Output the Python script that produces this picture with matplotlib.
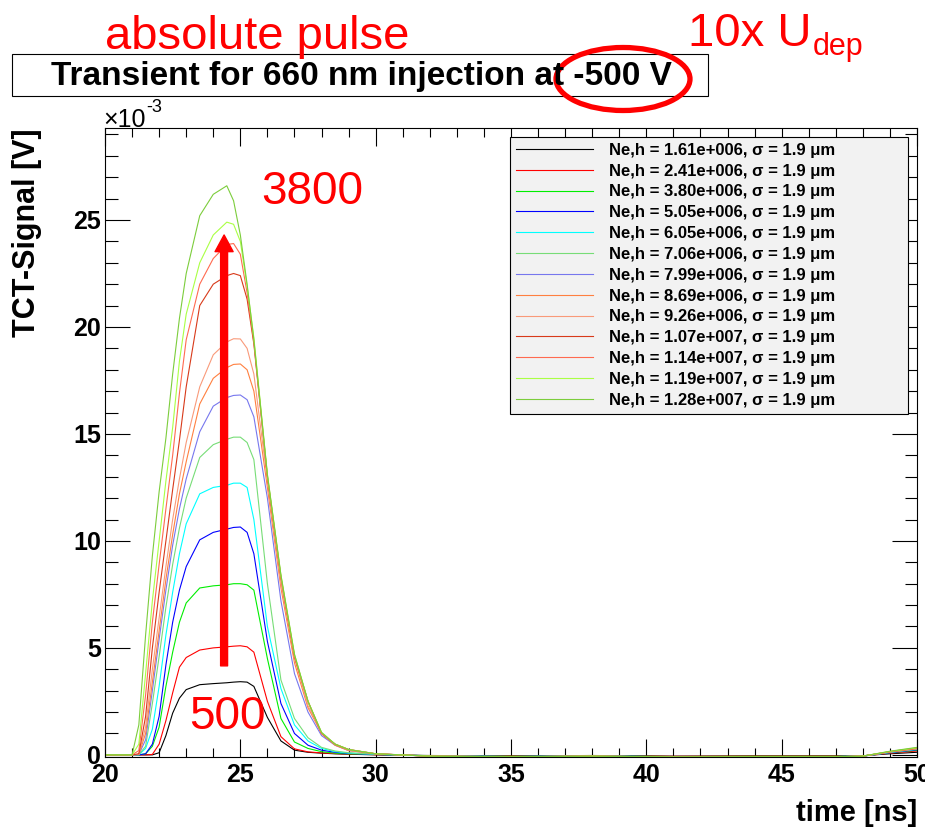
import matplotlib
matplotlib.use('Agg')
import matplotlib.pyplot as plt
from matplotlib.patches import Rectangle, Ellipse
from matplotlib.ticker import MultipleLocator

plt.rcParams['font.family'] = ['Liberation Sans', 'DejaVu Sans']
plt.rcParams['font.weight'] = 'bold'
plt.rcParams['axes.labelweight'] = 'bold'

# time axis [ns] and signals [1e-3 V]
t_ns = [20, 21, 21.25, 21.5, 21.75, 22, 22.25, 22.5, 22.75, 23, 23.5, 24, 24.5, 24.75,
        25, 25.25, 25.5, 26, 26.5, 27, 27.5, 28, 28.5, 29, 30, 32, 35, 38, 41, 44,
        47, 48, 49, 50]

sig_161 = [0, 0, 0, 0, 0, 0.1, 0.9, 1.95, 2.65, 3.05, 3.28, 3.33, 3.37, 3.4, 3.42, 3.4, 3.2,
           1.75, 0.65, 0.22, 0.12, 0.08, 0.05, 0.03, 0.0, -0.03, -0.05, -0.03, -0.06, -0.05,
           -0.05, -0.04, 0.05, 0.12]
sig_241 = [0, 0, 0, 0, 0.02, 0.5, 1.6, 2.9, 4.1, 4.55, 4.9, 5.0, 5.05, 5.08, 5.1, 5.05, 4.8,
           2.5, 0.85, 0.28, 0.14, 0.09, 0.06, 0.04, 0.01, -0.04, -0.06, -0.04, -0.07, -0.06,
           -0.06, -0.05, 0.08, 0.18]
sig_380 = [0, 0, 0, 0.05, 0.4, 1.3, 3.2, 4.8, 6.2, 7.1, 7.8, 7.9, 7.95, 8.0, 8.0, 7.95, 7.7,
           4.5, 1.7, 0.6, 0.3, 0.15, 0.08, 0.05, 0.02, -0.04, -0.07, -0.05, -0.08, -0.07,
           -0.07, -0.05, 0.1, 0.22]
sig_505 = [0, 0, 0, 0.05, 0.5, 1.8, 4.2, 6.2, 7.7, 8.8, 10.05, 10.4, 10.55, 10.63, 10.65, 10.4,
           9.4, 5.3, 2.4, 1.0, 0.45, 0.22, 0.12, 0.07, 0.02, -0.05, -0.08, -0.05, -0.09, -0.08,
           -0.08, -0.06, 0.1, 0.24]
sig_605 = [0, 0, 0, 0.3, 1.2, 3.2, 5.6, 7.6, 9.4, 10.8, 12.2, 12.5, 12.6, 12.7, 12.7, 12.5,
           11.0, 6.0, 3.1, 1.4, 0.65, 0.3, 0.15, 0.08, 0.03, -0.05, -0.08, -0.05, -0.09, -0.08,
           -0.08, -0.06, 0.12, 0.26]
sig_706 = [0, 0, 0.01, 0.4, 2.4, 4.6, 6.9, 8.9, 10.6, 12.0, 13.9, 14.5, 14.75, 14.85, 14.85,
           14.6, 13.8, 8.0, 3.5, 1.7, 0.8, 0.35, 0.18, 0.1, 0.03, -0.05, -0.08, -0.06, -0.09,
           -0.08, -0.08, -0.06, 0.12, 0.27]
sig_799 = [0, 0, 0.02, 0.7, 3.0, 5.4, 7.7, 9.8, 11.5, 12.9, 15.1, 16.3, 16.7, 16.8, 16.82,
           16.6, 15.8, 12.0, 7.2, 3.8, 2.0, 0.9, 0.45, 0.2, 0.05, -0.05, -0.08, -0.06, -0.1,
           -0.08, -0.08, -0.06, 0.13, 0.28]
sig_869 = [0, 0, 0.02, 1.0, 3.4, 5.8, 8.2, 10.3, 12.2, 13.7, 16.4, 17.6, 18.1, 18.25, 18.27,
           18.0, 17.0, 12.5, 7.8, 4.3, 2.2, 1.0, 0.45, 0.2, 0.05, -0.06, -0.09, -0.06, -0.1,
           -0.09, -0.09, -0.06, 0.14, 0.29]
sig_926 = [0, 0, 0.03, 1.3, 4.0, 6.4, 8.8, 11.0, 12.9, 14.6, 17.2, 18.7, 19.3, 19.45, 19.44,
           19.0, 17.8, 12.8, 8.0, 4.5, 2.3, 1.0, 0.5, 0.22, 0.05, -0.06, -0.09, -0.06, -0.1,
           -0.09, -0.09, -0.06, 0.14, 0.3]
sig_1070 = [0, 0, 0.05, 1.8, 5.0, 7.6, 10.0, 12.4, 14.7, 17.2, 21.0, 22.0, 22.4, 22.5, 22.4,
            21.3, 19.2, 13.0, 8.3, 4.6, 2.5, 1.0, 0.5, 0.25, 0.05, -0.06, -0.09, -0.06, -0.1,
            -0.09, -0.09, -0.06, 0.15, 0.31]
sig_1140 = [0, 0, 0.2, 2.8, 6.2, 8.9, 11.5, 14.0, 16.9, 19.4, 22.0, 23.2, 23.85, 23.9, 23.4,
            21.6, 19.3, 13.0, 8.3, 4.6, 2.5, 1.0, 0.5, 0.25, 0.05, -0.06, -0.09, -0.06, -0.1,
            -0.09, -0.09, -0.06, 0.15, 0.32]
sig_1190 = [0, 0, 0.5, 3.8, 7.2, 10.0, 12.8, 15.3, 18.4, 20.6, 23.0, 24.3, 24.9, 24.8, 24.0,
            21.9, 19.5, 13.1, 8.4, 4.7, 2.5, 1.05, 0.5, 0.25, 0.05, -0.06, -0.09, -0.06, -0.1,
            -0.09, -0.09, -0.06, 0.16, 0.33]
sig_1280 = [0, 0, 1.4, 5.6, 9.3, 12.3, 14.8, 17.8, 20.4, 22.5, 25.2, 26.2, 26.6, 25.9, 24.3,
            22.0, 19.4, 13.1, 8.4, 4.7, 2.5, 1.05, 0.5, 0.25, 0.05, -0.06, -0.09, -0.06, -0.1,
            -0.09, -0.09, -0.06, 0.17, 0.35]

signals = [sig_161, sig_241, sig_380, sig_505, sig_605, sig_706, sig_799,
           sig_869, sig_926, sig_1070, sig_1140, sig_1190, sig_1280]
n_eh = ['1.61e+006', '2.41e+006', '3.80e+006', '5.05e+006', '6.05e+006', '7.06e+006',
        '7.99e+006', '8.69e+006', '9.26e+006', '1.07e+007', '1.14e+007', '1.19e+007',
        '1.28e+007']
colors = ['black', '#ff0000', '#00ee00', '#0000ff', '#00ffff', '#77dd77', '#7777ee',
          '#ff8040', '#f99a7a', '#d83a1a', '#ff6a50', '#aaff44', '#7ccd3c']

W, H = 925, 832


def fx(x):
    return x / W


def fy(y):
    return 1 - y / H


fig = plt.figure(figsize=(W / 100, H / 100), dpi=100)
ax = fig.add_axes([fx(105), fy(757), fx(917) - fx(105), fy(128) - fy(757)])

for vals, col, ne in zip(signals, colors, n_eh):
    ax.plot(t_ns, vals, color=col, lw=0.8, label=f'Ne,h = {ne}, σ = 1.9 μm')

ax.set_xlim(20, 50)
ax.set_ylim(-0.1, 29.3)
ax.xaxis.set_major_locator(MultipleLocator(5))
ax.xaxis.set_minor_locator(MultipleLocator(1))
ax.yaxis.set_major_locator(MultipleLocator(5))
ax.yaxis.set_minor_locator(MultipleLocator(1))
ax.tick_params(which='both', direction='in', top=True, right=True, width=0.8)
ax.tick_params(axis='x', which='major', length=13, labelsize=18, pad=4)
ax.tick_params(axis='x', which='minor', length=6.5)
ax.tick_params(axis='y', which='major', length=18, labelsize=18, pad=3)
ax.tick_params(axis='y', which='minor', length=9)
for s in ax.spines.values():
    s.set_linewidth(0.8)

ax.set_xlabel('time [ns]', fontsize=21, ha='right')
ax.xaxis.set_label_coords(1.0, -0.066)
ax.set_ylabel('TCT-Signal [V]', fontsize=22, ha='right')
ax.yaxis.set_label_coords(-0.077, 1.0)

leg = ax.legend(loc='upper left', bbox_to_anchor=(fx(510), fy(413), fx(908) - fx(510), fy(137) - fy(413)),
                bbox_transform=fig.transFigure, mode='expand', borderaxespad=0,
                fontsize=12, handlelength=4.6, handletextpad=1.0, borderpad=0.35,
                labelspacing=0.35, fancybox=False, framealpha=1)
leg.get_frame().set_facecolor('#f2f2f2')
leg.get_frame().set_edgecolor('black')
leg.get_frame().set_linewidth(0.8)

# x10^-3 multiplier
fig.text(fx(103), fy(127), '×10', fontsize=18, weight='normal', va='baseline')
fig.text(fx(146), fy(112), '-3', fontsize=13, weight='normal', va='baseline')

# title box
fig.add_artist(Rectangle((fx(12), fy(96)), fx(708) - fx(12), fy(54) - fy(96),
                         transform=fig.transFigure, facecolor='white', edgecolor='black', lw=0.8))
fig.text(fx(361), fy(76), 'Transient for 660 nm injection at -500 V', ha='center', va='center',
         fontsize=24, weight='bold')

# red annotations
fig.add_artist(Ellipse((fx(623), fy(79)), 134 / W, 63 / H, transform=fig.transFigure,
                       fill=False, edgecolor='red', lw=3.8))
fig.text(fx(105), fy(49), 'absolute pulse', color='red', fontsize=34, weight='normal', va='baseline')
fig.text(fx(688), fy(46), '10x U', color='red', fontsize=34, weight='normal', va='baseline')
fig.text(fx(813), fy(55), 'dep', color='red', fontsize=22, weight='normal', va='baseline')

ax.annotate('', xy=(24.4, 24.3), xytext=(24.4, 4.16),
            arrowprops=dict(facecolor='red', edgecolor='red', width=5, headwidth=13,
                            headlength=12, shrink=0))
ax.text(27.67, 26.3, '3800', color='red', fontsize=33, weight='normal', ha='center', va='center')
ax.text(24.52, 1.75, '500', color='red', fontsize=33, weight='normal', ha='center', va='center')

fig.savefig('out.png', dpi=100)
